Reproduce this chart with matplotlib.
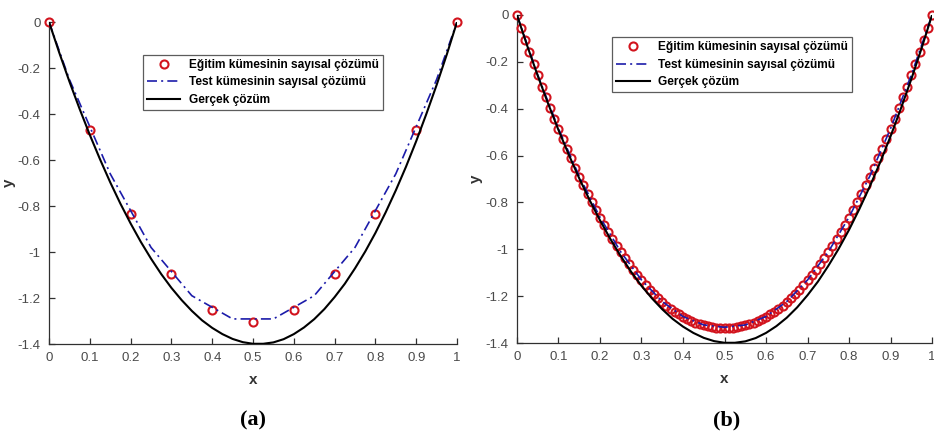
import numpy as np
import matplotlib
matplotlib.use('Agg')
import matplotlib.pyplot as plt

plt.rcParams['font.family'] = ['Liberation Sans', 'DejaVu Sans']

# ---- (a) 11 egitim noktasi ----
x_train_a = [0.0, 0.1, 0.2, 0.3, 0.4, 0.5, 0.6, 0.7, 0.8, 0.9, 1.0]
y_train_a = [0.0, -0.470, -0.835, -1.096, -1.252, -1.306, -1.252, -1.096, -0.835, -0.470, 0.0]

x_test_a = [0.0, 0.05, 0.15, 0.25, 0.35, 0.45, 0.55, 0.65, 0.75, 0.85, 0.95, 1.0]
y_test_a = [0.0, -0.250, -0.660, -0.980, -1.190, -1.291, -1.291, -1.190, -0.980, -0.660, -0.250, 0.0]

# ---- (b) 101 egitim noktasi ----
x_train_b = [i / 100 for i in range(101)]
y_train_b = [0.000, -0.054, -0.106, -0.157, -0.208, -0.258, -0.306, -0.352, -0.398, -0.443,
             -0.487, -0.529, -0.571, -0.612, -0.651, -0.690, -0.727, -0.763, -0.798, -0.832,
             -0.865, -0.897, -0.928, -0.957, -0.986, -1.013, -1.039, -1.064, -1.088, -1.111,
             -1.133, -1.154, -1.173, -1.192, -1.209, -1.225, -1.240, -1.254, -1.266, -1.278,
             -1.289, -1.298, -1.307, -1.314, -1.320, -1.325, -1.329, -1.332, -1.334, -1.335,
             -1.335,
             -1.335, -1.334, -1.332, -1.329, -1.325, -1.320, -1.314, -1.307, -1.298, -1.289,
             -1.278, -1.266, -1.254, -1.240, -1.225, -1.209, -1.192, -1.173, -1.154, -1.133,
             -1.111, -1.088, -1.064, -1.039, -1.013, -0.986, -0.957, -0.928, -0.897, -0.865,
             -0.832, -0.798, -0.763, -0.727, -0.690, -0.651, -0.612, -0.571, -0.529, -0.487,
             -0.443, -0.398, -0.352, -0.306, -0.258, -0.208, -0.157, -0.106, -0.054, 0.000]

x_test_b = [0.0, 0.05, 0.1, 0.15, 0.2, 0.25, 0.3, 0.35, 0.4, 0.45, 0.5,
            0.55, 0.6, 0.65, 0.7, 0.75, 0.8, 0.85, 0.9, 0.95, 1.0]
y_test_b = [0.0, -0.256, -0.485, -0.688, -0.863, -1.011, -1.131, -1.223, -1.287, -1.323, -1.333,
            -1.323, -1.287, -1.223, -1.131, -1.011, -0.863, -0.688, -0.485, -0.256, 0.0]

# ---- gercek cozum ----
x_true = [i * 0.025 for i in range(41)]
y_true = [0.000, -0.133, -0.259, -0.378, -0.491, -0.597, -0.697, -0.790, -0.876, -0.956,
          -1.029, -1.096, -1.156, -1.209, -1.256, -1.297, -1.330, -1.357, -1.378, -1.392,
          -1.399, -1.399, -1.393, -1.379, -1.357, -1.328, -1.292, -1.248, -1.196, -1.138,
          -1.071, -0.998, -0.917, -0.828, -0.732, -0.629, -0.518, -0.399, -0.274, -0.141, 0.000]

labels = ['Eğitim kümesinin sayısal çözümü',
          'Test kümesinin sayısal çözümü',
          'Gerçek çözüm']

fig = plt.figure(figsize=(9.34, 4.36), dpi=100)
ax_a = fig.add_axes([0.0525, 0.211, 0.4368, 0.7385])
ax_b = fig.add_axes([0.5535, 0.2133, 0.4444, 0.7523])

red = '#d2141e'
blue = '#1c1caa'
axcol = '#303030'
dash_dot = (0, (6, 2.5, 1.2, 2.5))


def draw(ax, xtr, ytr, xts, yts, leg_anchor):
    ax.plot(xtr, ytr, 'o', mfc='none', mec=red, mew=1.5, ms=5.8, clip_on=False,
            label=labels[0], zorder=3)
    ax.plot(xts, yts, color=blue, lw=1.2, linestyle=dash_dot, label=labels[1], zorder=4)
    ax.plot(x_true, y_true, color='black', lw=1.5, label=labels[2], zorder=5)

    ax.set_xlim(0, 1)
    ax.set_ylim(-1.4, 0)
    ax.set_xticks(np.arange(0, 1.01, 0.1))
    ax.set_xticklabels(['0', '0.1', '0.2', '0.3', '0.4', '0.5', '0.6', '0.7', '0.8', '0.9', '1'])
    ax.set_yticks([-1.4, -1.2, -1.0, -0.8, -0.6, -0.4, -0.2, 0])
    ax.set_yticklabels(['-1.4', '-1.2', '-1', '-0.8', '-0.6', '-0.4', '-0.2', '0'])
    ax.spines['top'].set_visible(False)
    ax.spines['right'].set_visible(False)
    for s in ('left', 'bottom'):
        ax.spines[s].set_color(axcol)
        ax.spines[s].set_linewidth(0.9)
    ax.tick_params(direction='in', length=4, width=0.9, colors=axcol,
                   labelcolor='#4a4a4a', labelsize=9.5, pad=6)
    ax.set_xlabel('x', fontsize=11, fontweight='bold', color='#333333', labelpad=6)
    ax.set_ylabel('y', fontsize=11, fontweight='bold', color='#333333')
    ax.yaxis.set_label_coords(-0.082, 0.5)

    leg = ax.legend(loc='upper left', bbox_to_anchor=leg_anchor, frameon=True, fancybox=False,
                    fontsize=8.6, handlelength=2.8, handletextpad=0.7, borderpad=0.35,
                    labelspacing=0.45, borderaxespad=0)
    leg.get_frame().set_edgecolor('#333333')
    leg.get_frame().set_linewidth(0.9)
    for t in leg.get_texts():
        t.set_fontweight('bold')


# legend anchors in axes fraction
draw(ax_a, x_train_a, y_train_a, x_test_a, y_test_a, (0.23, 0.898))
draw(ax_b, x_train_b, y_train_b, x_test_b, y_test_b, (0.229, 0.932))

fig.text(253 / 934, 1 - 420 / 436, '(a)', ha='center', va='center', fontsize=16,
         fontweight='bold', family='Liberation Serif')
fig.text(727 / 934, 1 - 420 / 436, '(b)', ha='center', va='center', fontsize=16,
         fontweight='bold', family='Liberation Serif')

fig.savefig('out.png', dpi=100)
